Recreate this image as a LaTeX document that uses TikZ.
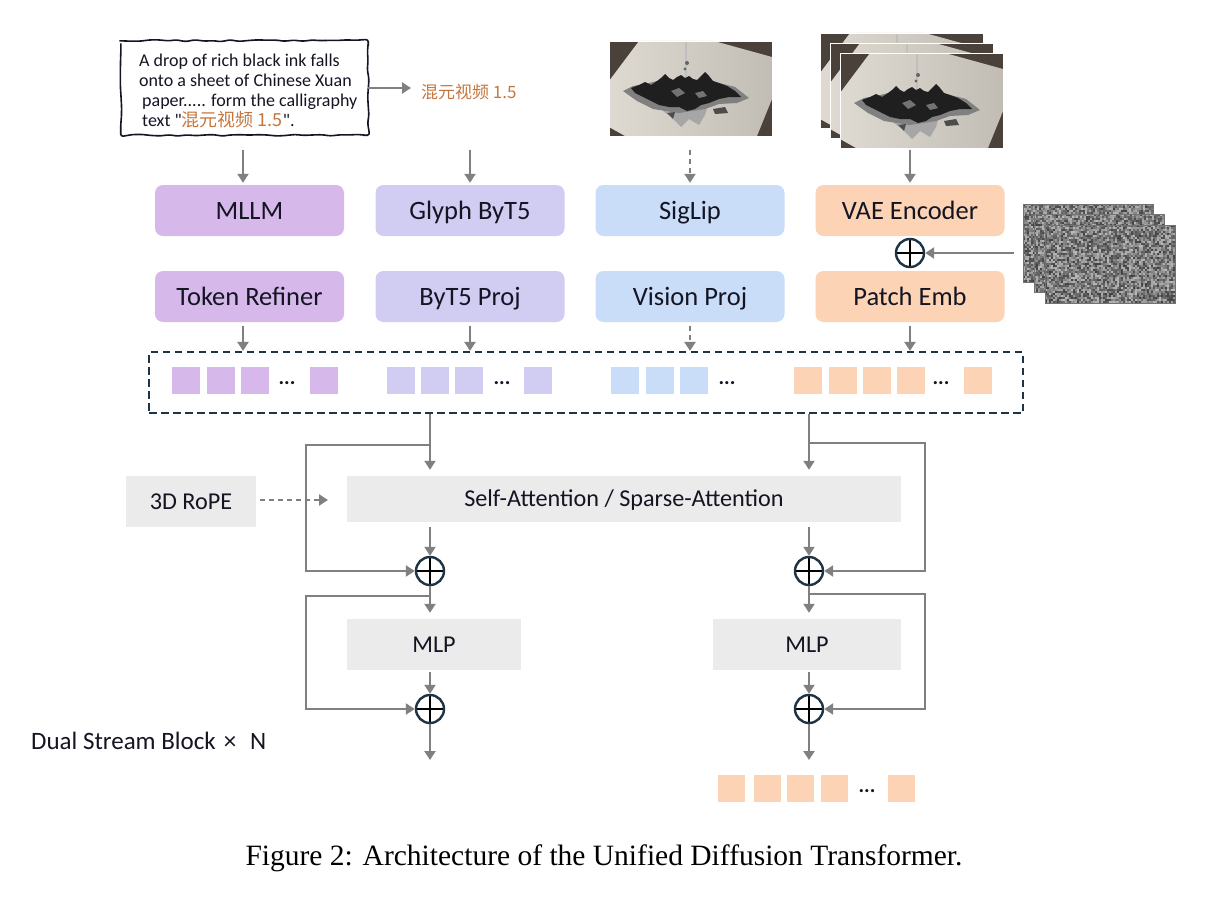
\documentclass[tikz,border=0pt]{standalone}
\usepackage{fontspec}
\setmainfont{Carlito}
\newfontfamily\cjkfont{Noto Sans CJK SC}
\newfontfamily\capfont{Liberation Serif}
\usetikzlibrary{arrows.meta,decorations.pathmorphing,calc}
\newcommand\straightquote{\XeTeXglyph\XeTeXcharglyph"22\relax}
\definecolor{cPur}{HTML}{D6B9EA}
\definecolor{cLav}{HTML}{D0CCF2}
\definecolor{cBlu}{HTML}{C9DDF8}
\definecolor{cOra}{HTML}{FDD3B5}
\definecolor{cGry}{HTML}{EBEBEB}
\definecolor{cArr}{HTML}{808080}
\definecolor{cNavy}{HTML}{1E3444}
\definecolor{cTxt}{HTML}{141423}
\definecolor{cCn}{HTML}{C5763F}
\definecolor{photoBg}{HTML}{4A413B}
\definecolor{paperL}{HTML}{DEDAD2}
\definecolor{paperR}{HTML}{C2BDB4}
\tikzset{
 inkphoto/.pic={
  \fill[photoBg] (0,0) rectangle (163,95);
  \shade[left color=paperL, right color=paperR] (30,0) -- (105,0) -- (163,16) -- (163,58) -- (148,95) -- (16,95) -- (0,86) -- (0,40) -- cycle;
  \draw[black!25, line width=2.5pt] (77,0) -- (77,36);
  \fill[black!35] (48,62) -- (100,60) -- (96,74) -- (90,84) -- (80,78) -- (72,86) -- (62,76) -- (54,70) -- cycle;
  \fill[black!50] (14,50) -- (24,45) -- (36,43) -- (48,40) -- (110,42) -- (126,46) -- (140,57) -- (128,62) -- (110,63) -- (96,68) -- (70,72) -- (44,68) -- (28,60) -- cycle;
  \fill[black!88] (22,47) -- (30,44) -- (36,41) -- (42,44) -- (48,40) -- (52,37) -- (56,33) -- (60,37) -- (64,39) -- (68,36) -- (72,34) -- (76,37) -- (80,35) -- (84,38) -- (88,39) -- (92,35) -- (96,31) -- (100,35) -- (104,40) -- (110,42) -- (118,45) -- (126,50) -- (132,56) -- (120,56) -- (110,58) -- (100,62) -- (92,64) -- (86,68) -- (78,70) -- (70,66) -- (60,66) -- (50,64) -- (42,60) -- (34,56) -- (26,52) -- cycle;
  \fill[black!55] (62,50) -- (70,47) -- (76,52) -- (68,56) -- cycle (86,52) -- (94,50) -- (98,55) -- (90,57) -- cycle;
  \fill[black!70] (104,68) -- (116,66) -- (119,72) -- (106,73) -- cycle (58,72) -- (66,71) -- (64,78) -- cycle;
  \fill[black!60] (78,22) circle (2) (76,28) circle (1.7);
  \draw[white, line width=0.8pt] (0,0) rectangle (163,95);
 },
 noiseimg/.pic={
  \foreach \i in {0,...,64} \foreach \j in {0,...,38} {
   \pgfmathtruncatemacro\g{random(28,74)}
   \fill[black!\g] (\i*2,\j*2) rectangle +(2.1,2.1);
  }
  \draw[black!55, line width=0.6pt] (0,0) rectangle (130,78);
 }
}
\begin{document}
\begin{tikzpicture}[x=1pt,y=-1pt,
 tbox/.style={rounded corners=8pt, minimum width=189pt, minimum height=51pt, inner sep=0pt, text=cTxt, font=\fontsize{26.5}{30}\selectfont, text height=17pt, text depth=0pt},
 gbox/.style={fill=cGry, inner sep=0pt, text=cTxt, font=\fontsize{24.2}{28}\selectfont, text height=15.5pt, text depth=0pt},
 arr/.style={draw=cArr, line width=2.6pt, -{Triangle[length=9pt,width=11pt]}},
 darr/.style={arr, dash pattern=on 5pt off 4pt},
 oplus/.style={circle, draw=cNavy, line width=2.4pt, minimum size=28pt, inner sep=0pt, fill=white,
   path picture={\draw[black,line width=1.8pt] (path picture bounding box.north) -- (path picture bounding box.south) (path picture bounding box.west) -- (path picture bounding box.east);}},
 tok/.style={minimum width=28pt, minimum height=27pt, inner sep=0pt},
 dots/.style={text=cTxt, font=\fontsize{21}{21}\selectfont\bfseries, inner sep=0pt},
]
\useasboundingbox (0,0) rectangle (1232,907);
\pgfmathsetseed{11}

% ---------- prompt ----------
\node[minimum width=247pt, minimum height=94pt, inner sep=0pt] (prompt) at (244.5,88) {};
\draw[cTxt, line width=1.6pt, decorate, decoration={random steps, segment length=9pt, amplitude=1pt}, rounded corners=2.5pt] (prompt.north west) rectangle (prompt.south east);
\node[align=left, inner sep=0pt, text=cTxt, font=\fontsize{18}{20}\selectfont, anchor=west] (ptext) at (139,91)
 {A drop of rich black ink falls\\onto a sheet of Chinese Xuan\\\hspace*{3pt}paper..... form the calligraphy\\\hspace*{3pt}text \straightquote{\cjkfont\color{cCn}混元视频 1.5}\straightquote.};
\node[anchor=west, font=\cjkfont\fontsize{17}{20}\selectfont, text=cCn, inner sep=0pt] (cnlabel) at (421,92) {混元视频 1.5};
\draw[arr, shorten >=10pt] (prompt.east) -- (prompt.east -| cnlabel.west);

% ---------- images ----------
\pic at (609,41) {inkphoto};
\pic at (820,33) {inkphoto};
\pic at (830,43) {inkphoto};
\pic at (840,53) {inkphoto};
\pic at (1023,204) {noiseimg};
\pic at (1034,214) {noiseimg};
\pic at (1045,225) {noiseimg};

% ---------- encoder boxes ----------
\node[tbox, fill=cPur] (mllm) at (249.5,210.5) {MLLM};
\node[tbox, fill=cLav] (glyph) at (470,210.5) {Glyph ByT5};
\node[tbox, fill=cBlu] (siglip) at (690,210.5) {SigLip};
\node[tbox, fill=cOra] (vae) at (910,210.5) {VAE Encoder};
\node[tbox, fill=cPur] (refiner) at (249.5,296.5) {Token Refiner};
\node[tbox, fill=cLav] (byproj) at (470,296.5) {ByT5 Proj};
\node[tbox, fill=cBlu] (visproj) at (690,296.5) {Vision Proj};
\node[tbox, fill=cOra] (patch) at (910,296.5) {Patch Emb};
\node[oplus] (addn) at (910,253) {};
\coordinate (nz) at (1014,253);
\draw[arr] (nz) -- (addn.east);

\coordinate (a1) at (243,150);
\coordinate (a2) at (470,150);
\coordinate (a3) at (690,150);
\coordinate (a4) at (910,150);
\draw[arr, shorten >=2pt] (a1) -- (a1 |- mllm.north);
\draw[arr, shorten >=2pt] (a2) -- (a2 |- glyph.north);
\draw[darr, shorten >=2pt] (a3) -- (a3 |- siglip.north);
\draw[arr, shorten >=2pt] (a4) -- (a4 |- vae.north);

% ---------- token box ----------
\node[draw=cNavy, line width=2.2pt, dash pattern=on 7.5pt off 4.5pt, minimum width=874pt, minimum height=61pt, inner sep=0pt] (tokens) at (586,382.5) {};
\draw[arr, shorten <=4pt] (refiner.south -| a1) -- (tokens.north -| a1);
\draw[arr, shorten <=4pt] (byproj.south -| a2) -- (tokens.north -| a2);
\draw[darr, shorten <=4pt] (visproj.south -| a3) -- (tokens.north -| a3);
\draw[arr, shorten <=4pt] (patch.south -| a4) -- (tokens.north -| a4);

\foreach \x [count=\k] in {172,206.5,241,309.5} \node[tok, fill=cPur, anchor=west] (tp\k) at (\x,380.5) {};
\node[dots] (dp) at (287,383) {...};
\foreach \x [count=\k] in {387,420.5,455,524} \node[tok, fill=cLav, anchor=west] (tl\k) at (\x,380.5) {};
\node[dots] (dl) at (502,383) {...};
\foreach \x [count=\k] in {611,645.5,680} \node[tok, fill=cBlu, anchor=west] (tb\k) at (\x,380.5) {};
\node[dots] (db) at (727,383) {...};
\foreach \x [count=\k] in {794,828.5,863,896.5,964} \node[tok, fill=cOra, anchor=west] (to\k) at (\x,380.5) {};
\node[dots] (do) at (941,383) {...};

% ---------- transformer block ----------
\node[gbox, minimum width=554pt, minimum height=46pt] (sa) at (624,499) {Self-Attention / Sparse-Attention};
\node[gbox, minimum width=130pt, minimum height=51pt] (rope) at (191,501.5) {3D RoPE};
\node[gbox, minimum width=174pt, minimum height=51pt] (mlpL) at (434,644.5) {MLP};
\node[gbox, minimum width=188pt, minimum height=51pt] (mlpR) at (807,644.5) {MLP};
\node[oplus] (c1L) at (430,571) {};
\node[oplus] (c2L) at (430,709) {};
\node[oplus] (c1R) at (809,571) {};
\node[oplus] (c2R) at (809,709) {};

\coordinate (ropeEnd) at (328,500);
\draw[darr, shorten <=4pt] (rope.east |- ropeEnd) -- (ropeEnd);

% left stream
\coordinate (colL) at (430,0);
\coordinate (lL) at (306,0);
\coordinate (bL1) at (430,445);
\coordinate (bL2) at (430,596);
\coordinate (outL) at (430,760);
\draw[arr, shorten >=6pt] (tokens.south -| colL) -- (sa.north -| colL);
\draw[arr] (bL1) -| (lL |- c1L) -- (c1L.west);
\draw[arr, shorten <=5pt] (sa.south -| colL) -- (c1L.north);
\draw[arr, shorten >=6pt] (c1L.south) -- (mlpL.north -| colL);
\draw[arr] (bL2) -| (lL |- c2L) -- (c2L.west);
\draw[arr, shorten <=2pt] (mlpL.south -| colL) -- (c2L.north);
\draw[arr] (c2L.south) -- (outL);

% right stream
\coordinate (colR) at (809,0);
\coordinate (rR) at (925,0);
\coordinate (bR1) at (809,443);
\coordinate (bR2) at (809,594);
\coordinate (outR) at (809,760);
\draw[arr, shorten >=6pt] (tokens.south -| colR) -- (sa.north -| colR);
\draw[arr] (bR1) -| (rR |- c1R) -- (c1R.east);
\draw[arr, shorten <=5pt] (sa.south -| colR) -- (c1R.north);
\draw[arr, shorten >=6pt] (c1R.south) -- (mlpR.north -| colR);
\draw[arr] (bR2) -| (rR |- c2R) -- (c2R.east);
\draw[arr, shorten <=2pt] (mlpR.south -| colR) -- (c2R.north);
\draw[arr] (c2R.south) -- (outR);

\foreach \x [count=\k] in {718,754,787,821,888} \node[tok, minimum width=27pt, fill=cOra, anchor=west] (ou\k) at (\x,788.5) {};
\node[dots] (dou) at (867,791) {...};

\node[anchor=west, inner sep=0pt, text=cTxt, font=\fontsize{25}{28}\selectfont] (dual) at (31,741) {Dual Stream Block\hspace{8pt}×\hspace{14pt}N};

% ---------- caption ----------
\node[inner sep=0pt, font=\capfont\fontsize{29.5}{34}\selectfont] (caption) at (604,858) {Figure 2: Architecture of the Unified Diffusion Transformer.};
\end{tikzpicture}
\end{document}
